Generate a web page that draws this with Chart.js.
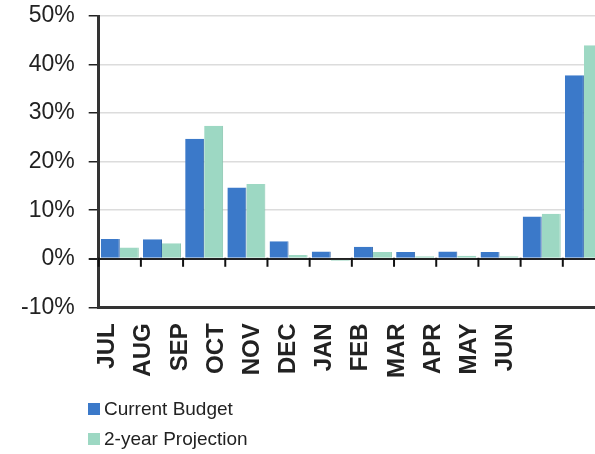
<!DOCTYPE html>
<html>
<head>
<meta charset="utf-8">
<script src="https://cdn.jsdelivr.net/npm/chart.js@4/dist/chart.umd.min.js"></script>
<style>
  html, body { margin: 0; padding: 0; background: #fff; overflow: hidden; width: 595px; height: 454px; }
  #clip { position: relative; width: 595px; height: 454px; overflow: hidden; }
  #wrap { position: absolute; left: 0; top: 0; width: 612px; height: 454px; }
  #legend { position: absolute; left: 88px; top: 394px; font-family: "Liberation Sans", Arial, sans-serif; font-size: 19px; color: #222; }
  #legend div { height: 30px; line-height: 20px; display: flex; align-items: center; }
  #legend span.box { display: inline-block; width: 12px; height: 12px; margin-right: 4px; }
</style>
</head>
<body>
<div id="clip">
  <div id="wrap">
    <canvas id="chart" width="612" height="454"></canvas>
    <div id="legend"></div>
  </div>
</div>
<script>
const months = ['JUL', 'AUG', 'SEP', 'OCT', 'NOV', 'DEC', 'JAN', 'FEB', 'MAR', 'APR', 'MAY', 'JUN'];
const currentBudget = [4.1, 4.0, 24.7, 14.7, 3.6, 1.5, 2.5, 1.4, 1.5, 1.4, 8.7, 37.8];
const projection = [2.3, 3.2, 27.4, 15.4, 0.8, -0.4, 1.4, 0.5, 0.6, 0.5, 9.3, 44.0];
const yTicks = [-10, 0, 10, 20, 30, 40, 50];

const blue = '#3b79c9';
const green = '#9dd8c3';

// small tick marks on the 0% line between the months
const zeroTicks = {
  id: 'zeroTicks',
  afterDatasetsDraw(chart) {
    const x = chart.scales.x;
    const y = chart.scales.y;
    const y0 = y.getPixelForValue(0);
    const ctx = chart.ctx;
    ctx.save();
    ctx.strokeStyle = '#111';
    ctx.lineWidth = 2;
    const half = (x.getPixelForValue(1) - x.getPixelForValue(0)) / 2;
    for (let i = 0; i < months.length; i++) {
      const px = x.getPixelForValue(i) - half;
      ctx.beginPath();
      ctx.moveTo(px, y0 - 1);
      ctx.lineTo(px, y0 + 8);
      ctx.stroke();
    }
    ctx.restore();
  }
};

const chart = new Chart(document.getElementById('chart').getContext('2d'), {
  type: 'bar',
  data: {
    labels: months,
    datasets: [
      { label: 'Current Budget', data: currentBudget, backgroundColor: blue, borderColor: '#2f64a8', borderWidth: { right: 1 } },
      { label: '2-year Projection', data: projection, backgroundColor: green, borderColor: '#86c4ae', borderWidth: { right: 1 } }
    ]
  },
  options: {
    responsive: false,
    animation: false,
    categoryPercentage: 0.9,
    barPercentage: 1.0,
    layout: { padding: { left: 7, right: 7, top: 16, bottom: 60 } },
    plugins: {
      legend: { display: false },
      tooltip: { enabled: false }
    },
    scales: {
      x: {
        display: false
      },
      xl: {
        type: 'category',
        position: 'bottom',
        labels: months.concat(['', '', '']),
        offset: false,
        grid: { display: false, drawTicks: false },
        border: { color: '#333', width: 3 },
        afterFit(scale) { scale.paddingLeft = 0; scale.paddingRight = 0; },
        ticks: {
          autoSkip: false,
          minRotation: 90,
          maxRotation: 90,
          padding: 16,
          labelOffset: 9,
          color: '#222',
          font: { family: '"Liberation Sans", Arial, sans-serif', size: 24, weight: 'bold' }
        }
      },
      y: {
        min: -10,
        max: 50,
        afterBuildTicks(scale) { scale.ticks = yTicks.map(v => ({ value: v })); },
        afterFit(scale) { scale.paddingTop = 0; scale.paddingBottom = 0; },
        grid: {
          color: ctx => (ctx.tick && ctx.tick.value === 0 ? '#222' : '#dcdcdc'),
          lineWidth: ctx => (ctx.tick && ctx.tick.value === 0 ? 2 : 1.5),
          tickColor: '#222',
          tickLength: 10
        },
        border: { color: '#333', width: 3 },
        ticks: {
          padding: 14,
          color: '#222',
          font: { family: '"Liberation Sans", Arial, sans-serif', size: 23 },
          callback: v => v + '%'
        }
      }
    }
  },
  plugins: [zeroTicks]
});

// legend stacked under the axis, as in the original
const legend = document.getElementById('legend');
chart.data.datasets.forEach(ds => {
  const row = document.createElement('div');
  const box = document.createElement('span');
  box.className = 'box';
  box.style.background = ds.backgroundColor;
  row.appendChild(box);
  row.appendChild(document.createTextNode(ds.label));
  legend.appendChild(row);
});
</script>
</body>
</html>
